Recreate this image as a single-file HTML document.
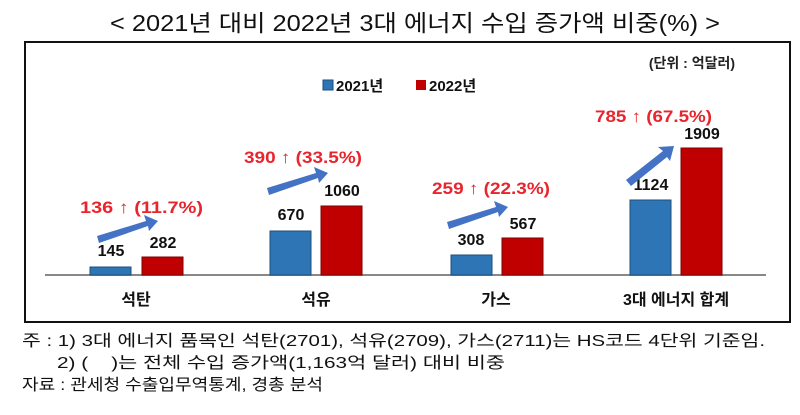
<!DOCTYPE html>
<html><head><meta charset="utf-8"><style>
body{margin:0;background:#fff;width:800px;height:410px;overflow:hidden}
</style></head><body>
<svg width="800" height="410" xmlns="http://www.w3.org/2000/svg" font-family="'Liberation Sans','Noto Sans CJK KR',sans-serif">
<text x="110" y="31" textLength="610" lengthAdjust="spacingAndGlyphs" font-size="23" fill="#111">&lt; 2021년 대비 2022년 3대 에너지 수입 증가액 비중(%) &gt;</text>
<rect x="25" y="42" width="765" height="280" fill="#fff" stroke="#111" stroke-width="2"/>
<text x="735" y="68" text-anchor="end" font-size="14" font-weight="bold" fill="#222">(단위 : 억달러)</text>
<rect x="323" y="80" width="10" height="10" fill="#2e75b6" stroke="#1f4e79"/>
<text x="336" y="91" font-size="15" font-weight="bold" fill="#111">2021년</text>
<rect x="416" y="80" width="10" height="10" fill="#c00000"/>
<text x="429" y="91" font-size="15" font-weight="bold" fill="#111">2022년</text>
<line x1="45" y1="275" x2="766" y2="275" stroke="#888" stroke-width="2"/>
<g stroke="#1f4e79" stroke-width="1" fill="#2e75b6">
<rect x="90" y="267" width="41" height="8"/>
<rect x="270" y="231" width="41" height="44"/>
<rect x="451" y="255" width="41" height="20"/>
<rect x="630" y="200" width="41" height="75"/>
</g>
<g stroke="#7f0000" stroke-width="1" fill="#c00000">
<rect x="142" y="257" width="41" height="18"/>
<rect x="321" y="206" width="41" height="69"/>
<rect x="502" y="238" width="41" height="37"/>
<rect x="681" y="148" width="41" height="127"/>
</g>
<g font-size="16" font-weight="bold" fill="#111" text-anchor="middle">
<text x="111" y="256">145</text><text x="163" y="248">282</text>
<text x="291" y="220">670</text><text x="342" y="196">1060</text>
<text x="471" y="245">308</text><text x="523" y="229">567</text>
<text x="651" y="190">1124</text><text x="702" y="139">1909</text>
</g>
<g font-size="17" font-weight="bold" fill="#e8242c">
<text x="80" y="213" textLength="123" lengthAdjust="spacingAndGlyphs">136 ↑ (11.7%)</text>
<text x="244" y="163" textLength="118" lengthAdjust="spacingAndGlyphs">390 ↑ (33.5%)</text>
<text x="432" y="194" textLength="118" lengthAdjust="spacingAndGlyphs">259 ↑ (22.3%)</text>
<text x="595" y="122" textLength="117" lengthAdjust="spacingAndGlyphs">785 ↑ (67.5%)</text>
</g>
<g fill="#4472c4">
<polygon points="97,236 146,221 144,215 158,221 149,231 148,226 99,243"/>
<polygon points="267,188 316,173 314,167 328,173 319,183 318,178 269,195"/>
<polygon points="447,222 496,207 494,201 508,207 499,217 498,212 449,229"/>
<polygon points="626,180 663,151 658,147 674,146 670,161 667,157 631,186"/>
</g>
<g font-size="16" font-weight="bold" fill="#111" text-anchor="middle">
<text x="136" y="305">석탄</text><text x="316" y="305">석유</text>
<text x="496" y="305">가스</text><text x="676" y="305">3대 에너지 합계</text>
</g>
<g font-size="16" fill="#111">
<text x="22" y="346" textLength="743" lengthAdjust="spacingAndGlyphs">주 : 1) 3대 에너지 품목인 석탄(2701), 석유(2709), 가스(2711)는 HS코드 4단위 기준임.</text>
<text x="57" y="368" textLength="448" lengthAdjust="spacingAndGlyphs">2) (&#160;&#160;&#160;&#160;)는 전체 수입 증가액(1,163억 달러) 대비 비중</text>
<text x="22" y="390" textLength="301" lengthAdjust="spacingAndGlyphs">자료 : 관세청 수출입무역통계, 경총 분석</text>
</g>
</svg>
</body></html>
